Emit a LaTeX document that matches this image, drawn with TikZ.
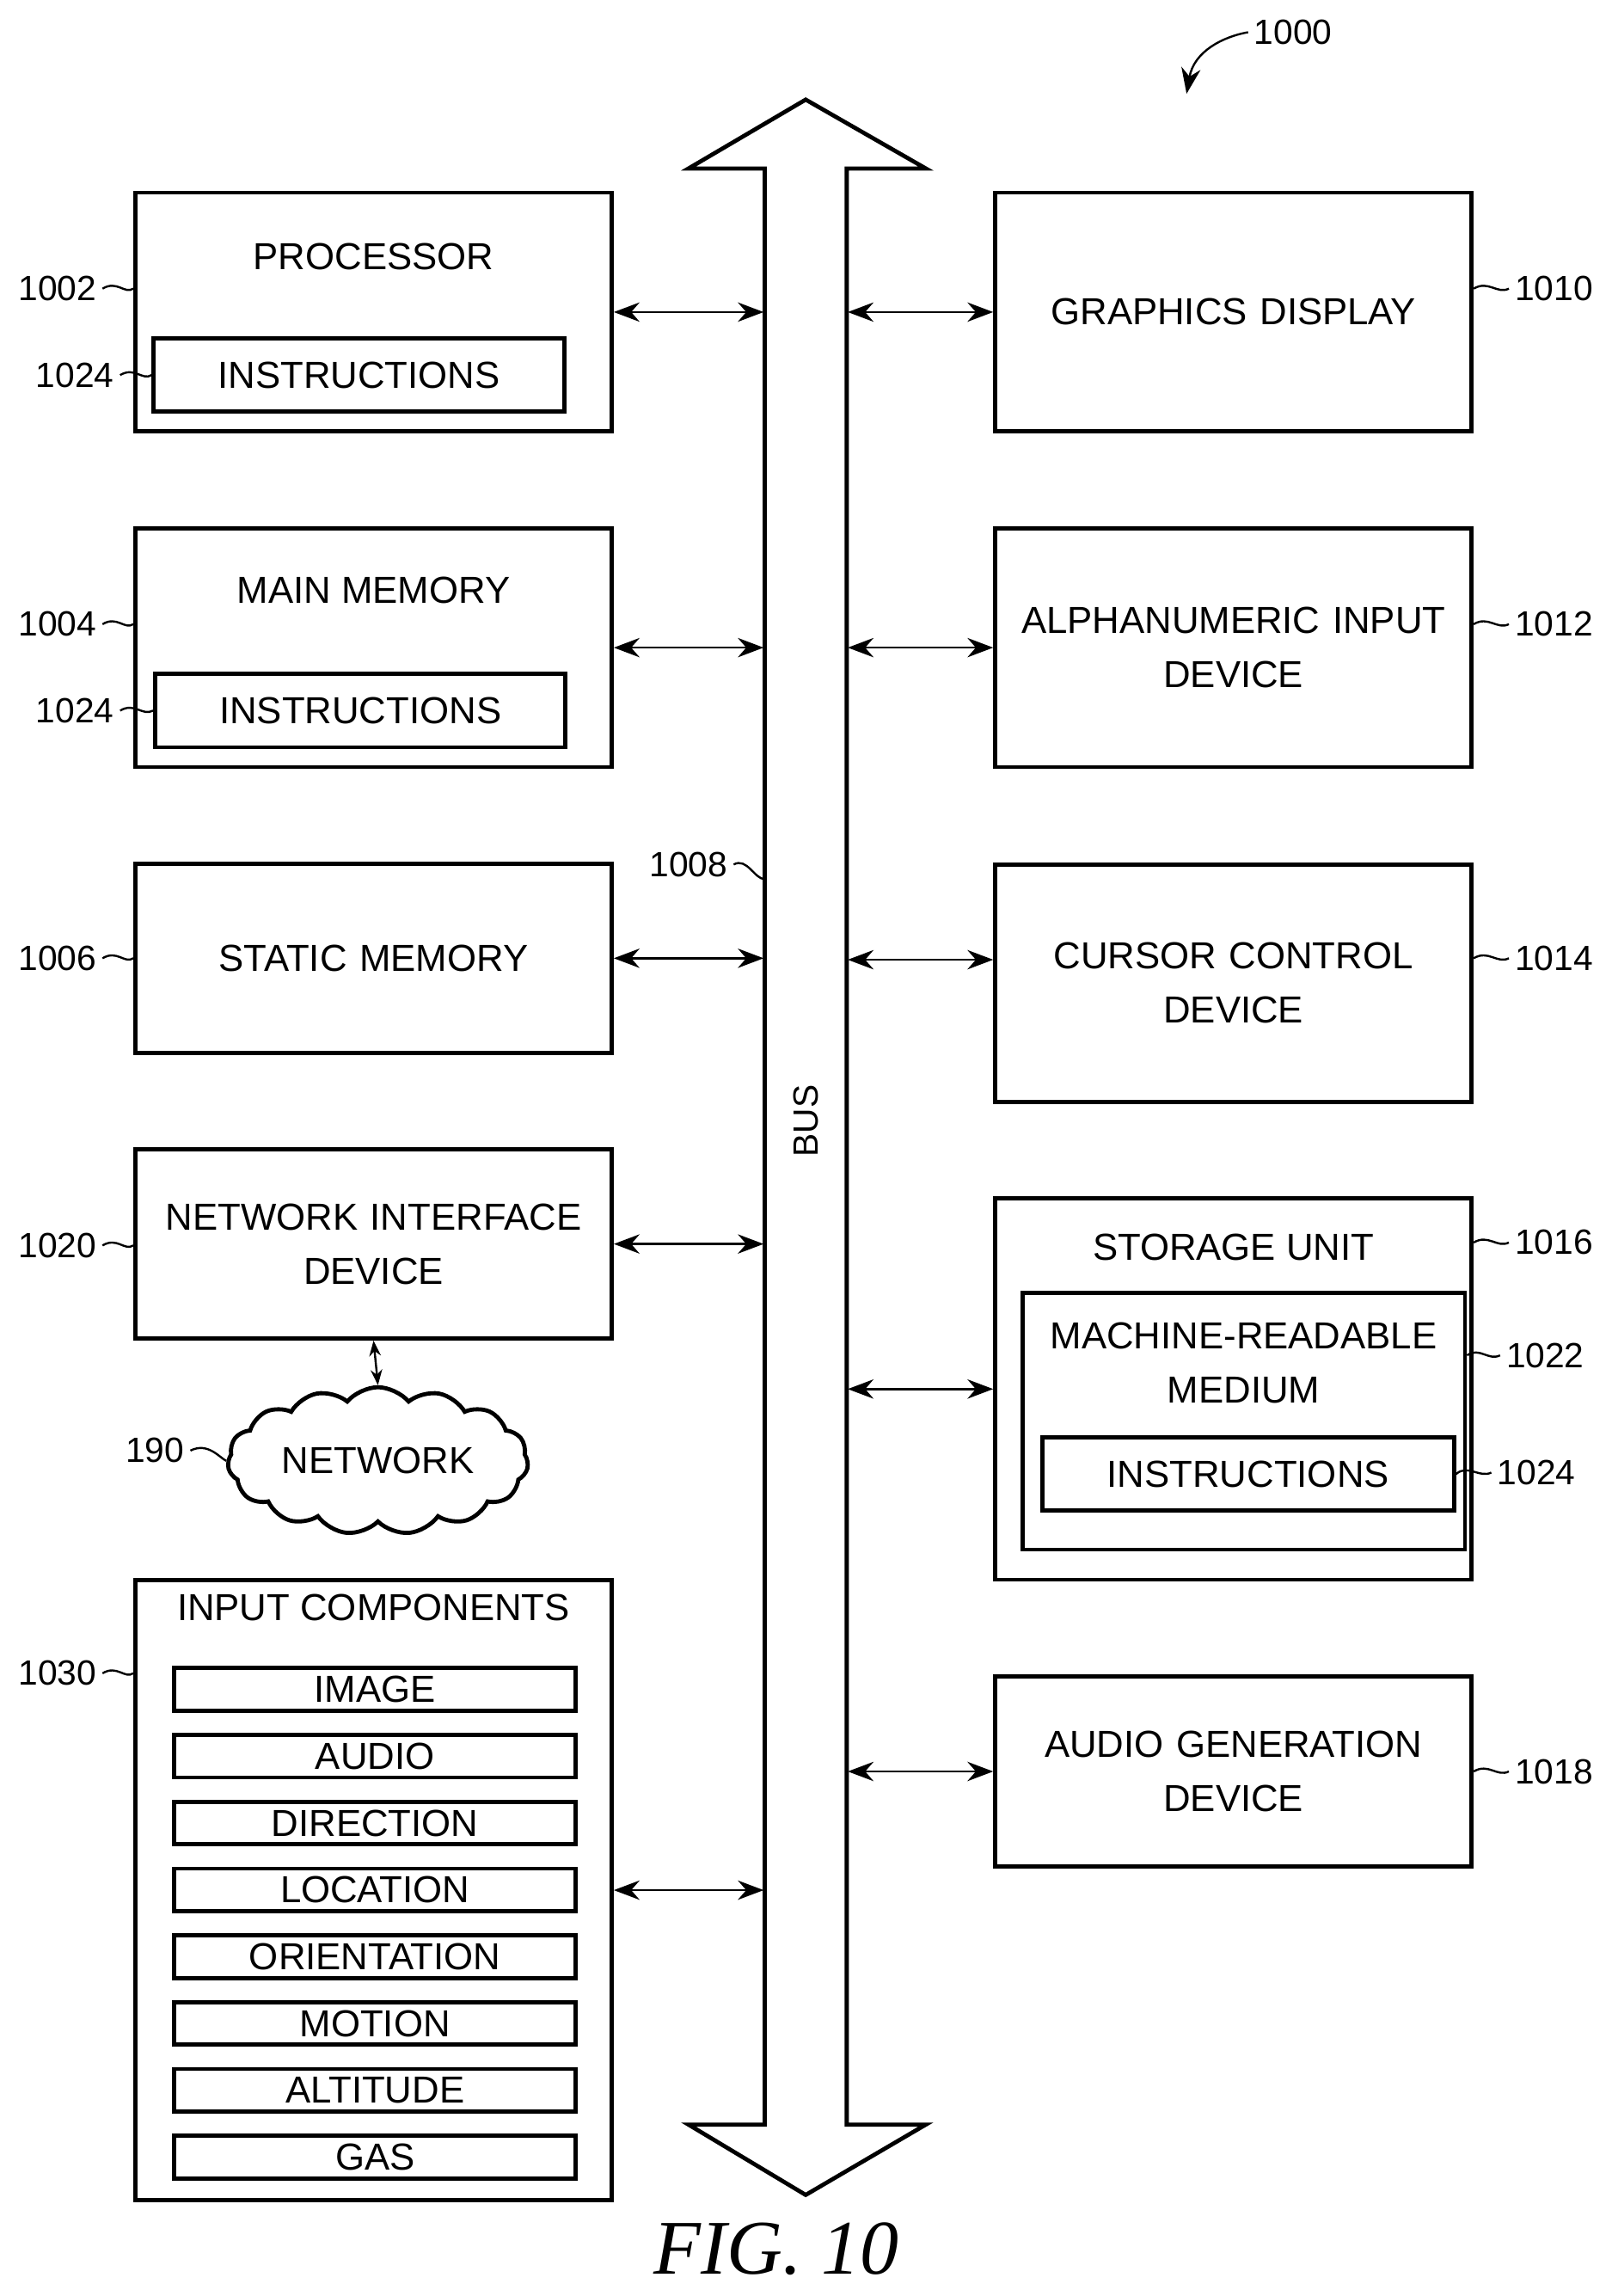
\documentclass[tikz,border=0pt]{standalone}
\usepackage{fontspec}
\setmainfont{Liberation Sans}
\newfontfamily\figfont{Liberation Serif}
\usetikzlibrary{arrows.meta, positioning, calc, shapes.symbols}
\tikzset{
    box/.style={
        rectangle,
        draw=black,
        thick,
        minimum width=3.25cm,
        text width=3.1cm,
        inner sep=0pt,
        align=center,
        font=\fontsize{7.3}{10.5}\selectfont
    },
    title/.style={
        align=center,
        inner sep=0pt,
        font=\fontsize{7.3}{10.5}\selectfont
    },
    inner/.style={
        rectangle,
        draw=black,
        thick,
        inner sep=0pt,
        font=\fontsize{7.3}{8}\selectfont
    },
    busarrow/.style={
        {Stealth[length=5pt]}-{Stealth[length=5pt]},
        thin
    },
    ref/.style={
        inner sep=1pt,
        font=\fontsize{6.8}{8}\selectfont
    },
    leader/.style={
        thin
    }
}
\begin{document}
\begin{tikzpicture}[x=0.01cm,y=-0.01cm]
    \useasboundingbox (0,0) rectangle (1100,1567);

    % Bus
    \node[minimum width=0.56cm, minimum height=13.35cm, inner sep=0pt] (bus) at (550,782) {};
    \draw[thick] (522,115) -- (470,115) -- (550,68) -- (632,115) -- (578,115)
        -- (578,1450) -- (632,1450) -- (550,1498) -- (470,1450) -- (522,1450) -- cycle;
    \node[ref, rotate=90] at (550,765) {BUS};
    \node[ref] (l1008) at (470,590) {1008};
    \draw[leader] (l1008.east) .. controls (510,585) and (515,600) .. (522,600);

    % Left column
    \node[box, minimum height=1.63cm] (proc) at (255,213) {};
    \node[title] at (255,175) {PROCESSOR};
    \node[inner, minimum width=2.8cm, minimum height=0.5cm] (proci) at (245,256) {INSTRUCTIONS};

    \node[box, minimum height=1.63cm] (mem) at (255,442) {};
    \node[title] at (255,403) {MAIN MEMORY};
    \node[inner, minimum width=2.8cm, minimum height=0.5cm] (memi) at (246,485) {INSTRUCTIONS};

    \node[box, minimum height=1.29cm] (smem) at (255,654) {STATIC MEMORY};
    \node[box, minimum height=1.29cm] (nid) at (255,849) {NETWORK INTERFACE\\DEVICE};
    \node[cloud, draw, thick, cloud puffs=15, cloud puff arc=100, aspect=2.2, inner sep=0pt,
        minimum width=2.05cm, minimum height=0.95cm,
        font=\fontsize{7.3}{8}\selectfont] (net) at (258,997) {NETWORK};

    \node[box, minimum height=4.23cm] (inp) at (255,1290) {};
    \node[title] at (255,1097) {INPUT COMPONENTS};
    \foreach \name [count=\i] in {IMAGE,AUDIO,DIRECTION,LOCATION,ORIENTATION,MOTION,ALTITUDE,GAS}
        \node[inner, minimum width=2.74cm, minimum height=0.29cm] (inp\i) at (256,{1153+45.6*(\i-1)}) {\name};

    % Right column
    \node[box, minimum height=1.63cm] (gfx) at (842,213) {GRAPHICS DISPLAY};
    \node[box, minimum height=1.63cm] (alpha) at (842,442) {ALPHANUMERIC INPUT\\DEVICE};
    \node[box, minimum height=1.62cm] (cur) at (842,671) {CURSOR CONTROL\\DEVICE};
    \node[box, minimum height=2.6cm] (stor) at (842,948) {};
    \node[title] at (842,851) {STORAGE UNIT};
    \node[box, minimum width=3.02cm, text width=2.9cm, minimum height=1.75cm] (mrm) at (849,970) {};
    \node[title] at (849,930) {MACHINE-READABLE\\MEDIUM};
    \node[inner, minimum width=2.81cm, minimum height=0.5cm] (mrmi) at (852,1006) {INSTRUCTIONS};
    \node[box, minimum height=1.3cm] (aud) at (842,1209) {AUDIO GENERATION\\DEVICE};

    % Bus connections
    \foreach \b in {proc,mem,smem,nid,inp}
        \draw[busarrow] (\b.east) -- (\b.east -| bus.west);
    \foreach \b/\y in {gfx/213,alpha/442,cur/655,stor/948,aud/1209}
        \draw[busarrow] (bus.east |- 0,\y) -- (\b.west |- 0,\y);
    \draw[{Stealth[length=3pt]}-{Stealth[length=3pt]}, thin] (nid.south) -- (net.north);

    % Reference numerals, left
    \foreach \n/\t/\y in {proc/1002/197, mem/1004/426, smem/1006/654, nid/1020/850, inp/1030/1142}{
        \node[ref, anchor=east] (r\t) at (70,\y) {\t};
        \draw[leader] (r\t.east) .. controls (80,\y-6) and (85,\y+4) .. (\n.west |- 0,\y);
    }
    \foreach \n/\y in {proci/256, memi/485}{
        \node[ref, anchor=east] (r\n) at (82,\y) {1024};
        \draw[leader] (r\n.east) .. controls (92,\y-6) and (97,\y+4) .. (\n.west);
    }
    \node[ref, anchor=east] (r190) at (130,990) {190};
    \draw[leader] (r190.east) .. controls (142,984) and (150,995) .. (net.west);

    % Reference numerals, right
    \foreach \n/\t/\y in {gfx/1010/197, alpha/1012/426, cur/1014/654, stor/1016/848, aud/1018/1209}{
        \node[ref, anchor=west] (r\t) at (1030,\y) {\t};
        \draw[leader] (\n.east |- 0,\y) .. controls (1016,\y-6) and (1022,\y+4) .. (r\t.west);
    }
    \node[ref, anchor=west] (r1022) at (1024,925) {1022};
    \draw[leader] (mrm.east |- 0,925) .. controls (1010,919) and (1016,929) .. (r1022.west);
    \node[ref, anchor=west] (r1024) at (1018,1005) {1024};
    \draw[leader] (mrmi.east) .. controls (1002,999) and (1010,1009) .. (r1024.west);

    % Figure numeral
    \node[ref, anchor=west] (r1000) at (852,22) {1000};
    \coordinate (c1000) at (810,64);
    \draw[-{Stealth[length=5pt]}, thin] (r1000.west) .. controls (835,25) and (815,35) .. (c1000);

    \node[font=\figfont\itshape\fontsize{15}{18}\selectfont] (fig) at (530,1535) {FIG. 10};
\end{tikzpicture}
\end{document}
